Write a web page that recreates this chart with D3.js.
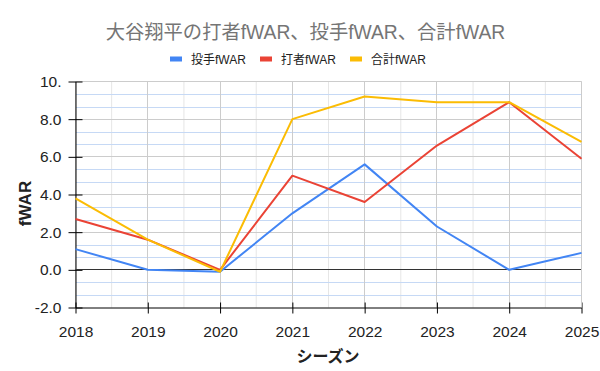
<!DOCTYPE html>
<html><head><meta charset="utf-8">
<script src="https://cdn.jsdelivr.net/npm/d3@7"></script>
<style>body{margin:0;background:#fff}svg{display:block}</style>
</head><body>
<svg id="c" width="600" height="371"></svg>
<script>
const seasons = [2018, 2019, 2020, 2021, 2022, 2023, 2024, 2025];
const pitcherWAR = [1.1, 0.0, -0.1, 3.0, 5.6, 2.3, 0.0, 0.9];
const batterWAR = [2.7, 1.6, 0.0, 5.0, 3.6, 6.6, 8.9, 5.9];
const totalWAR = [3.8, 1.6, -0.1, 8.0, 9.2, 8.9, 8.9, 6.8];
const yTicks = [-2, 0, 2, 4, 6, 8, 10];
const yTickLabels = ["-2.0", "0.0", "2.0", "4.0", "6.0", "8.0", "10."];
const seriesNames = ["投手fWAR", "打者fWAR", "合計fWAR"];
const seriesColors = ["#4285F4", "#EA4335", "#FBBC04"];
const titleText = "大谷翔平の打者fWAR、投手fWAR、合計fWAR";
const xTitle = "シーズン";
const yTitle = "fWAR";

const svg = d3.select("#c");
const L = 75.5, R = 581.5, T = 81.5, B = 307.5;
const x = d3.scaleLinear().domain([2018, 2025]).range([L, R]);
const y = d3.scaleLinear().domain([-2, 10]).range([B, T]);
const font = "Arial, 'Liberation Sans', 'Noto Sans CJK JP', sans-serif";

// minor vertical gridlines (half years)
const halfYears = seasons.slice(0, -1).map(s => s + 0.5);
svg.append("g").selectAll("line").data(halfYears).join("line")
  .attr("x1", d => x(d)).attr("x2", d => x(d)).attr("y1", T).attr("y2", B)
  .attr("stroke", "#e6e6e6").attr("stroke-width", 1);
// minor horizontal gridlines
const minorY = d3.range(-2, 10.001, 2 / 3).filter(v => Math.abs(Math.round(v / 2) * 2 - v) > 0.01);
svg.append("g").selectAll("line").data(minorY).join("line")
  .attr("x1", L).attr("x2", R).attr("y1", d => Math.round(y(d)) + 0.5).attr("y2", d => Math.round(y(d)) + 0.5)
  .attr("stroke", "#c6d9f5").attr("stroke-width", 1);
// major vertical
svg.append("g").selectAll("line").data(seasons).join("line")
  .attr("x1", d => Math.round(x(d) - 0.5) + 0.5).attr("x2", d => Math.round(x(d) - 0.5) + 0.5).attr("y1", T).attr("y2", B)
  .attr("stroke", "#cccccc").attr("stroke-width", 1);
// major horizontal
svg.append("g").selectAll("line").data(yTicks.filter(v => v !== 0 && v !== -2)).join("line")
  .attr("x1", L).attr("x2", R).attr("y1", d => Math.round(y(d) - 0.5) + 0.5).attr("y2", d => Math.round(y(d) - 0.5) + 0.5)
  .attr("stroke", "#cccccc").attr("stroke-width", 1);

// y axis
const yAxis = d3.axisLeft(y).tickValues(yTicks).tickSizeInner(-14).tickSizeOuter(0)
  .tickFormat((d, i) => yTickLabels[i]).tickPadding(0);
const gy = svg.append("g").attr("transform", `translate(${L},0)`).call(yAxis);
gy.select(".domain").attr("stroke", "#000");
gy.selectAll(".tick line").attr("stroke", "#000").attr("x1", -7).attr("x2", 7);
gy.selectAll(".tick text").attr("x", -14).attr("fill", "#222").attr("font-size", "15.5px").attr("font-family", font);

// x axis
const xAxis = d3.axisBottom(x).tickValues(seasons).tickFormat(d3.format("d")).tickSizeOuter(0);
const gx = svg.append("g").attr("transform", `translate(0,${B})`).call(xAxis);
gx.select(".domain").attr("stroke", "#000");
gx.selectAll(".tick line").attr("stroke", "#000").attr("y1", -5).attr("y2", 6);
gx.selectAll(".tick text").attr("y", 18).attr("dy", "0.71em").attr("fill", "#222").attr("font-size", "15.5px").attr("font-family", font);

// zero baseline
svg.append("line").attr("x1", L).attr("x2", R).attr("y1", Math.round(y(0) - 0.5) + 0.5).attr("y2", Math.round(y(0) - 0.5) + 0.5)
  .attr("stroke", "#333").attr("stroke-width", 1);
// right border
svg.append("line").attr("x1", R).attr("x2", R).attr("y1", T).attr("y2", B).attr("stroke", "#cccccc");

// lines
const lineGen = d3.line().x((d, i) => x(seasons[i])).y(d => y(d));
[pitcherWAR, batterWAR, totalWAR].forEach((vals, k) => {
  svg.append("path").datum(vals).attr("d", lineGen)
    .attr("fill", "none").attr("stroke", seriesColors[k]).attr("stroke-width", 2).attr("stroke-linejoin", "round");
});

// title
svg.append("text").attr("x", 305.5).attr("y", 39).attr("text-anchor", "middle")
  .attr("font-size", "19.3px").attr("fill", "#757575").attr("font-family", font).text(titleText);

// legend
const legendX = [170, 260, 350];
const lg = svg.append("g").selectAll("g").data(seriesNames).join("g")
  .attr("transform", (d, i) => `translate(${legendX[i]},59)`);
lg.append("rect").attr("x", 0).attr("y", -2.5).attr("width", 12).attr("height", 5).attr("fill", (d, i) => seriesColors[i]);
lg.append("text").attr("x", 21).attr("y", 4.5).attr("font-size", "12px").attr("fill", "#222").attr("font-family", font).text(d => d);

// axis titles
svg.append("text").attr("x", 328).attr("y", 362).attr("text-anchor", "middle")
  .attr("font-size", "16px").attr("font-weight", "bold").attr("fill", "#222").attr("font-family", font).text(xTitle);
svg.append("text").attr("transform", "translate(31,203.5) rotate(-90)").attr("text-anchor", "middle")
  .attr("font-size", "17px").attr("font-weight", "bold").attr("fill", "#222").attr("font-family", font).text(yTitle);
</script>
</body></html>
